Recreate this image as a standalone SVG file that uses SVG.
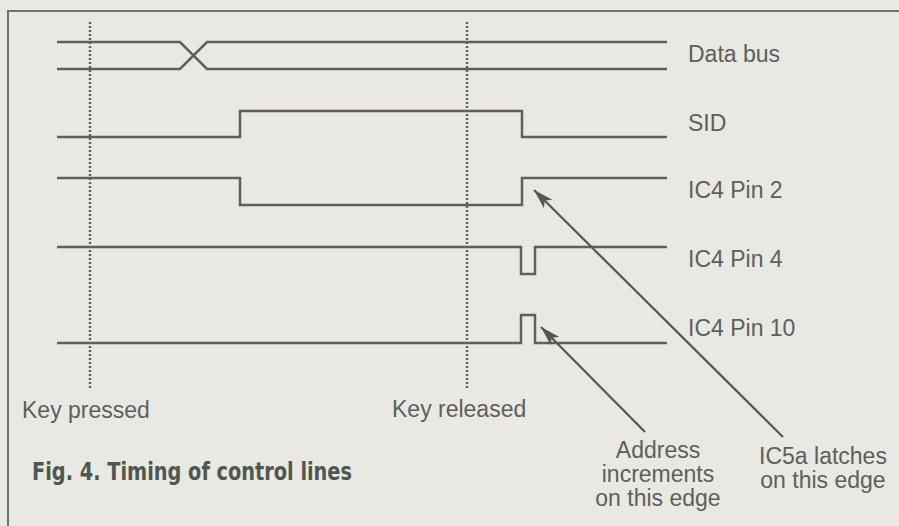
<svg xmlns="http://www.w3.org/2000/svg" width="899" height="526" viewBox="0 0 899 526">
<style>
.bg{fill:#eae8e3}
.frame{fill:none;stroke:#6b736c;stroke-width:2}
.sig{fill:none;stroke:#59635b;stroke-width:2.5;stroke-linejoin:miter}
.dot{fill:none;stroke:#59635b;stroke-width:2.5;stroke-dasharray:2 2}
.arr{fill:none;stroke:#4f5a52;stroke-width:2.2}
.lbl{font-family:"Liberation Sans",Arial,sans-serif;font-size:23px;fill:#5a615b}
.cap{font-family:"Liberation Sans Narrow","DejaVu Sans Condensed","Liberation Sans",sans-serif;font-weight:bold;font-size:24px;fill:#4d5850}
</style>
<defs>
<marker id="ah" viewBox="0 0 20 12" refX="20" refY="6" markerWidth="20" markerHeight="12" markerUnits="userSpaceOnUse" orient="auto">
<path d="M0,0 L20,6 L0,12 L5,6 z" fill="#4f5a52"/>
</marker>
</defs>
<rect class="bg" x="0" y="0" width="899" height="526"/>
<g id="frame">
<path class="frame" d="M8,526 V11 H899"/>
</g>
<g id="markers">
<line class="dot" x1="90" y1="22" x2="90" y2="390"/>
<line class="dot" x1="467" y1="22" x2="467" y2="390"/>
</g>
<g id="databus">
<path class="sig" d="M57,42 H180 L207,69 H667"/>
<path class="sig" d="M57,69 H180 L207,42 H667"/>
<text class="lbl" x="688" y="62">Data bus</text>
</g>
<g id="sid">
<path class="sig" d="M57,137 H240 V111 H522 V137 H667"/>
<text class="lbl" x="688" y="131">SID</text>
</g>
<g id="pin2">
<path class="sig" d="M57,178 H240 V205 H522 V178 H667"/>
<text class="lbl" x="688" y="198">IC4 Pin 2</text>
</g>
<g id="pin4">
<path class="sig" d="M57,247 H521 V274 H535 V247 H667"/>
<text class="lbl" x="688" y="267">IC4 Pin 4</text>
</g>
<g id="pin10">
<path class="sig" d="M57,343 H521 V315 H535 V343 H667"/>
<text class="lbl" x="688" y="336">IC4 Pin 10</text>
</g>
<g id="key-pressed">
<text class="lbl" x="22" y="418">Key pressed</text>
</g>
<g id="key-released">
<text class="lbl" x="392" y="417">Key released</text>
</g>
<g id="connectors">
<line class="arr" x1="783" y1="437" x2="534" y2="190" marker-end="url(#ah)"/>
<line class="arr" x1="645" y1="432" x2="541" y2="327" marker-end="url(#ah)"/>
</g>
<g id="note-address">
<text class="lbl" text-anchor="middle"><tspan x="658" y="458">Address</tspan><tspan x="658" y="482">increments</tspan><tspan x="658" y="506">on this edge</tspan></text>
</g>
<g id="note-ic5a">
<text class="lbl" text-anchor="middle"><tspan x="823" y="464">IC5a latches</tspan><tspan x="823" y="488">on this edge</tspan></text>
</g>
<g id="caption">
<text class="cap" x="32" y="480" textLength="320" lengthAdjust="spacingAndGlyphs">Fig. 4. Timing of control lines</text>
</g>
</svg>
